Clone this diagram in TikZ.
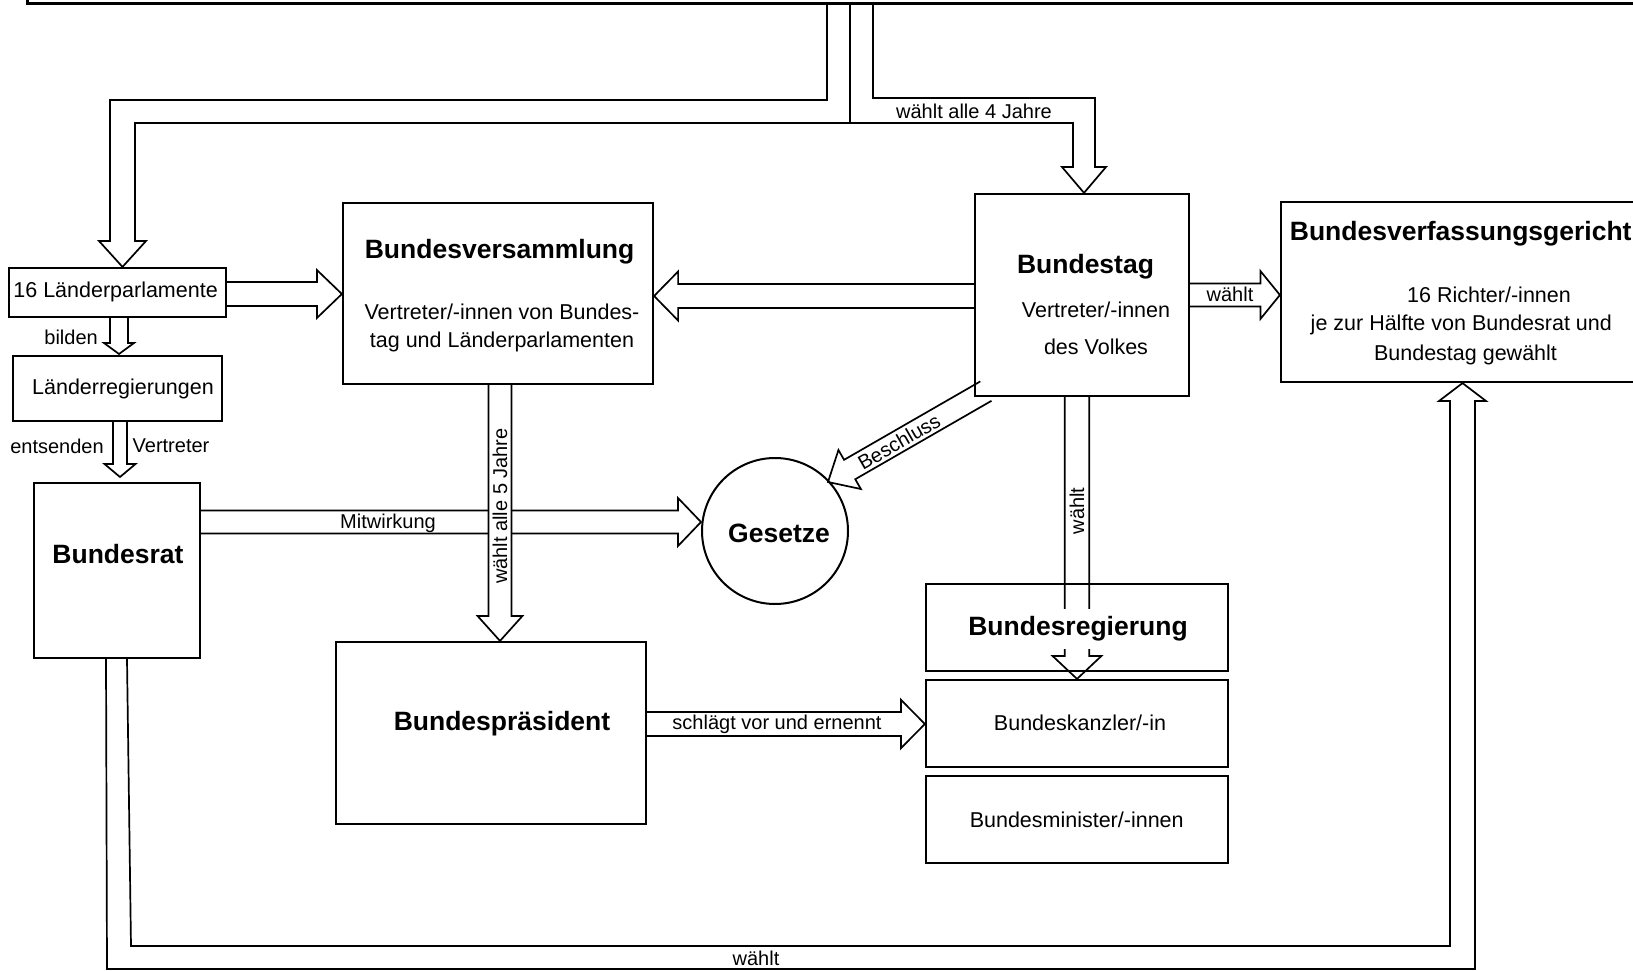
\documentclass[tikz,border=0pt]{standalone}
\usepackage{fontspec}
\setmainfont{Liberation Sans}
\usetikzlibrary{calc}
\pgfdeclarelayer{bg}
\pgfsetlayers{bg,main}
% #1 options, #2 start, #3 tip, #4 shaft half width, #5 head half width, #6 head length
\newcommand\blockarrow[6][]{%
  \coordinate (BAs) at #2;
  \coordinate (BAt) at #3;
  \coordinate (BAb) at ($(BAt)!#6!(BAs)$);
  \draw[arrowline,#1] ($(BAs)!#4!90:(BAt)$) -- ($(BAb)!#4!90:(BAt)$) -- ($(BAb)!#5!90:(BAt)$) -- (BAt)
    -- ($(BAb)!#5!-90:(BAt)$) -- ($(BAb)!#4!-90:(BAt)$) -- ($(BAs)!#4!-90:(BAt)$);
}
\begin{document}
\begin{tikzpicture}[x=1pt,y=-1pt,
  box/.style={draw, line width=2.2pt, rectangle, inner sep=0pt},
  arrowline/.style={draw, line width=1.7pt, line join=miter},
  title/.style={font=\fontsize{26.5}{31}\selectfont\bfseries, inner sep=0pt},
  body/.style={font=\fontsize{21.5}{28.3}\selectfont, inner sep=0pt, align=center},
  lab/.style={font=\fontsize{20}{24}\selectfont, inner sep=0pt}]
\useasboundingbox (0,0) rectangle (1633,971);

% boxes
\node[box, line width=3.2pt, minimum width=1700pt, minimum height=80pt, anchor=south west] (volk) at (26,5) {};
\node[box, minimum width=217pt, minimum height=49pt] (lp) at (117.5,292.5) {};
\node[box, minimum width=209pt, minimum height=65pt] (lr) at (117.5,388.5) {};
\node[box, minimum width=166pt, minimum height=175pt] (br) at (117,570.5) {};
\node[box, minimum width=310pt, minimum height=181pt] (bv) at (498,293.5) {};
\node[box, minimum width=310pt, minimum height=182pt] (bp) at (491,733) {};
\node[draw, circle, line width=2pt, minimum size=146pt, inner sep=0pt] (ges) at (775,531) {};
\node[box, minimum width=214pt, minimum height=202pt] (bt) at (1082,295) {};
\node[box, minimum width=369pt, minimum height=180pt] (bvg) at (1465.5,292) {};
\node[box, minimum width=302pt, minimum height=87pt] (breg) at (1077,627.5) {};
\node[box, minimum width=302pt, minimum height=87pt] (bk) at (1077,723.5) {};
\node[box, minimum width=302pt, minimum height=87pt] (bm) at (1077,819.5) {};

\begin{pgfonlayer}{bg}
% from the top box
\draw[arrowline] (volk.south -| 827,0) -- (827,100) -- (110,100) -- (110,241) -- (99,241)
  -- (lp.north -| 122.5,0) -- (146,241) -- (135,241) -- (135,123) -- (850,123) -- (volk.south -| 850,0);
\draw[arrowline] (850,123) -- (1073,123) -- (1073,167) -- (1062,167) -- (bt.north -| 1084,0)
  -- (1106,167) -- (1095,167) -- (1095,98) -- (873,98) -- (volk.south -| 873,0);
% straight block arrows
\blockarrow{(lp.east |- 0,294)}{(bv.west |- 0,294)}{12pt}{24pt}{25pt}
\blockarrow{(bt.west |- 0,296)}{(bv.east |- 0,296)}{12pt}{24.5pt}{24pt}
\blockarrow{(lp.south -| 119,0)}{(119,354)}{9pt}{15pt}{11pt}
\blockarrow{(lr.south -| 120,0)}{(120,477)}{7pt}{15.5pt}{13pt}
\blockarrow{(br.east |- 0,522)}{(701,522)}{11.5pt}{24pt}{23pt}
\blockarrow[fill=white]{(bv.south -| 500,0)}{(bp.north -| 500,0)}{11.5pt}{22.5pt}{25pt}
\blockarrow{($(bt.south west)+(12,-6)$)}{(828,482)}{11.2pt}{22.5pt}{25pt}
\blockarrow{(bt.east |- 0,295)}{(bvg.west |- 0,295)}{11.5pt}{24pt}{19.5pt}
\blockarrow{(bt.south -| 1077,0)}{(bk.north -| 1077,0)}{12.3pt}{24.5pt}{23pt}
\blockarrow{(bp.east |- 0,724)}{(bk.west |- 0,724)}{12pt}{24.2pt}{24pt}
% Bundesrat -> Bundesverfassungsgericht
\draw[arrowline] (br.south -| 127,0) -- (131,946) -- (1450,946) -- (1450,401) -- (1439,401)
  -- (bvg.south -| 1462.5,0) -- (1486,401) -- (1475,401) -- (1475,969) -- (107,969) -- (br.south -| 106,0);
\end{pgfonlayer}

% labels on arrows
\node[lab] (l4j) at (974,111) {wählt alle 4 Jahre};
\node[lab, anchor=east] (lbil) at (98,337) {bilden};
\node[lab] (lent) at (57,446) {entsenden};
\node[lab] (lver) at (171,446) {Vertreter};
\node[lab] (lmit) at (388,523.5) {Mitwirkung};
\node[lab, rotate=90] (l5j) at (500,506) {wählt alle 5 Jahre};
\node[lab, rotate=30] (lbes) at (899,441.7) {Beschluss};
\node[lab] (lw1) at (1230,294.5) {wählt};
\node[lab, rotate=90] (lw2) at (1077,511) {wählt};
\node[lab] (lsch) at (777,724) {schlägt vor und ernennt};
\node[lab] (lw3) at (756,958) {wählt};

% texts in boxes
\node[body] (tlp) at (115.6,291.5) {16 Länderparlamente};
\node[body] (tlr) at (123,389) {Länderregierungen};
\node[title] (tbr) at (118,554) {Bundesrat};
\node[title] (tbv) at (499.6,251.3) {Bundesversammlung};
\node[body] (bbv) at (502,328) {Vertreter/-innen von Bundes-\\tag und Länderparlamenten};
\node[title] (tbp) at (502,723.7) {Bundespräsident};
\node[title] (tges) at (779,533.7) {Gesetze};
\node[title] (tbt) at (1085.5,266.3) {Bundestag};
\node[body, font=\fontsize{21.5}{36.7}\selectfont] (bbt) at (1096,328.3) {Vertreter/-innen\\des Volkes};
\node[title] (tbvg) at (1460.7,234) {Bundesverfassungsgericht};
\node[body] (bvg1) at (1489,295.3) {16 Richter/-innen};
\node[body] (bvg2) at (1461.3,325.3) {je zur Hälfte von Bundesrat und};
\node[body] (bvg3) at (1465.5,354.7) {Bundestag gewählt};
\node[title, fill=white, inner xsep=4pt, inner ysep=7.5pt] (tbreg) at (1078,629) {Bundesregierung};
\node[body] (tbk) at (1080,723.3) {Bundeskanzler/-in};
\node[body] (tbm) at (1076.7,820) {Bundesminister/-innen};
\end{tikzpicture}
\end{document}
